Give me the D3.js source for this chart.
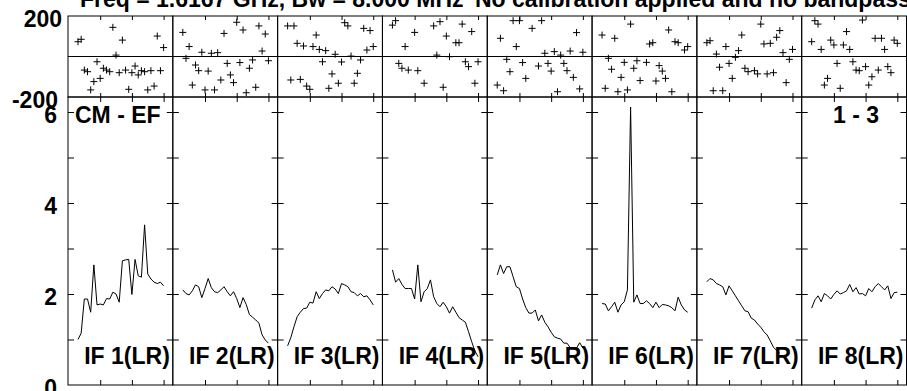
<!DOCTYPE html>
<html><head><meta charset="utf-8">
<script src="https://cdn.jsdelivr.net/npm/d3@7"></script>
<style>
body{margin:0;background:#fff}
svg{display:block}
text{font-family:"Liberation Sans",Arial,Helvetica,sans-serif;font-weight:bold;font-size:23px;fill:#000}
</style>
</head><body>
<svg id="c" width="907" height="391"></svg>
<script>
const titleLeft = "Freq = 1.6167 GHz, Bw = 8.000 MHz";
const titleRight = "No calibration applied and no bandpass applied";
const baselineLabel = "CM - EF";
const pairLabel = "1 - 3";
const ifLabels = ["IF 1(LR)","IF 2(LR)","IF 3(LR)","IF 4(LR)","IF 5(LR)","IF 6(LR)","IF 7(LR)","IF 8(LR)"];
const channels = [3,4,5,6,7,8,9,10,11,12,13,14,15,16,17,18,19,20,21,22,23,24,25,26,27,28,29,30];
const chanTicks = [10,20,30];
const ampLabelTicks = [0,2,4,6];
const ampAllTicks = [1,2,3,4,5,6];
const phaseLabelTicks = [200,-200];

const amp1 = [1.00,1.14,1.89,1.89,1.60,2.64,1.76,1.78,1.76,1.90,1.89,2.04,2.00,1.82,2.73,2.75,2.76,1.99,2.76,2.40,2.37,3.52,2.44,2.33,2.26,2.23,2.26,2.18];
const amp2 = [2.09,2.01,1.98,2.07,2.20,2.16,1.92,2.12,2.34,2.14,2.05,2.03,2.09,2.16,2.05,1.96,2.05,1.90,1.70,1.92,1.77,1.55,1.49,1.43,1.36,1.10,0.99,0.92];
const amp3 = [0.86,1.04,1.28,1.50,1.60,1.68,1.69,1.82,1.80,2.05,1.90,2.01,2.09,2.07,2.16,2.11,2.01,2.23,2.20,2.16,2.05,2.03,1.96,2.01,1.94,1.96,1.87,1.76];
const amp4 = [2.53,2.26,2.34,2.21,2.12,2.12,2.12,1.89,2.64,1.83,2.05,2.12,2.31,1.94,1.79,1.72,1.82,1.72,1.58,1.72,1.60,1.48,1.43,1.38,1.17,0.95,0.75,0.62];
const amp5 = [2.42,2.64,2.45,2.60,2.60,2.38,2.16,2.12,1.89,1.70,1.58,1.58,1.65,1.41,1.54,1.38,1.28,1.16,1.06,1.03,1.01,0.92,0.92,0.82,0.79,0.81,0.93,0.81];
const amp6 = [1.79,1.78,1.63,1.72,1.82,1.60,1.76,1.83,2.09,6.11,1.82,1.98,1.79,1.79,1.85,1.79,1.70,1.82,1.70,1.77,1.76,1.74,1.70,1.63,1.93,1.76,1.65,1.60];
const amp7 = [2.27,2.34,2.31,2.23,2.20,2.16,1.98,2.18,2.07,1.96,1.85,1.74,1.63,1.61,1.47,1.43,1.34,1.27,1.17,1.10,0.97,0.83,0.76,0.70];
const amp8 = [1.69,1.87,1.96,1.83,2.01,1.96,1.89,1.99,2.07,2.00,2.03,2.07,2.21,2.05,2.14,2.00,2.01,1.96,2.12,2.05,2.16,2.23,2.16,2.09,2.18,1.90,2.03,2.04];

const ph1 = [73,85,-67,-75,-165,-124,-26,-108,-58,-67,-75,144,7,-80,81,-67,-162,-80,-47,-91,-70,-75,-165,-70,-146,101,-70,44];
const ph2 = [119,-9,49,-141,-42,-70,21,-165,-72,16,-165,19,-116,114,-34,-91,-129,169,-30,131,-179,-58,-17,-152,151,27,111,-21];
const ph3 = [151,-116,151,65,-113,52,-146,-162,49,106,35,-26,29,-157,-86,11,-132,-27,167,151,2,-132,-83,-17,139,32,128,49];
const ph4 = [155,177,-34,-58,49,-67,null,119,-70,null,-132,null,null,151,7,172,-152,101,-1,null,68,68,160,-26,-50,123,-132,-26];
const ph5 = [-141,90,-169,-14,-75,177,49,177,-30,-108,null,139,null,-47,177,16,-34,-72,24,-174,7,-34,-70,27,-103,118,-160,21];
const ph6 = [106,-157,-9,-63,90,-174,-103,-29,-165,160,-58,-21,-119,null,-29,62,68,-121,-45,-72,-108,131,-174,73,68,null,32,49];
const ph7 = [68,78,-169,12,-53,-169,49,-34,-108,-4,29,106,-58,-75,null,-70,-86,160,62,-86,65,-80,95,128,19,-129,-14,35];
const ph8 = [73,177,160,35,-141,-108,81,57,-34,-157,57,123,35,-26,-67,-70,180,-50,-141,-100,90,-67,90,35,-50,-80,81,65];

const amps = [amp1,amp2,amp3,amp4,amp5,amp6,amp7,amp8];
const phases = [ph1,ph2,ph3,ph4,ph5,ph6,ph7,ph8];

const svg = d3.select("#c");
const L = 68, R = 906.5, nP = 8, W = (R - L) / nP;
const phTop = 16, phBot = 97, amTop = 97, amBot = 385;

const x = d3.scaleLinear().domain([-0.15, 32.9]).range([0, W]);
const yP = d3.scaleLinear().domain([-200, 200]).range([phBot, phTop]);
const yA = d3.scaleLinear().domain([0, 6.33]).range([amBot, amTop]);

function clean(g){ g.select(".domain").remove(); g.selectAll("line").attr("stroke","#000").attr("stroke-width",1); }
const plain = d => String(d);

for (let i = 0; i < nP; i++) {
  const x0 = L + i * W;
  const g = svg.append("g").attr("transform", `translate(${x0},0)`);

  g.append("line").attr("x1",0).attr("x2",W).attr("y1",yP(0)).attr("y2",yP(0)).attr("stroke","#000");

  g.append("g").attr("transform",`translate(0,${phTop})`)
    .call(d3.axisBottom(x).tickValues(chanTicks).tickSize(4).tickFormat("")).call(clean);
  g.append("g").attr("transform",`translate(0,${phBot})`)
    .call(d3.axisTop(x).tickValues(chanTicks).tickSize(4).tickFormat("")).call(clean);
  g.append("g").attr("transform",`translate(0,${amTop})`)
    .call(d3.axisBottom(x).tickValues(chanTicks).tickSize(5).tickFormat("")).call(clean);
  g.append("g").attr("transform",`translate(0,${amBot})`)
    .call(d3.axisTop(x).tickValues(chanTicks).tickSize(5).tickFormat("")).call(clean);
  g.append("g")
    .call(d3.axisRight(yA).tickValues(ampAllTicks).tickSize(6).tickFormat("")).call(clean);
  g.append("g").attr("transform",`translate(${W},0)`)
    .call(d3.axisLeft(yA).tickValues(ampAllTicks).tickSize(6).tickFormat("")).call(clean);

  g.append("rect").attr("x",0).attr("y",phTop).attr("width",W).attr("height",phBot-phTop)
    .attr("fill","none").attr("stroke","#000");
  g.append("rect").attr("x",0).attr("y",amTop).attr("width",W).attr("height",amBot-amTop)
    .attr("fill","none").attr("stroke","#000");

  const pts = channels.map((c,k)=>({c, v: phases[i][k]})).filter(d => d.v !== null && d.v !== undefined);
  g.append("g").selectAll("path").data(pts).join("path")
    .attr("d", d => { const px = x(d.c), py = yP(d.v); return `M${px-3.5},${py}H${px+3.5}M${px},${py-3.5}V${py+3.5}`; })
    .attr("stroke","#000").attr("stroke-width",1).attr("fill","none");

  const line = d3.line().defined(d => d.v != null).x(d => x(d.c)).y(d => yA(d.v));
  const adata = amps[i].map((v,k)=>({c: channels[k], v}));
  g.append("path").datum(adata).attr("d", line).attr("fill","none").attr("stroke","#000").attr("stroke-width",1);

  g.append("text").attr("x", W - 3).attr("y", 364).attr("text-anchor","end").text(ifLabels[i]);
}

function styleLabels(sel){
  sel.attr("dy","0.47em").attr("fill","#000")
    .style("font-size","23px").style("font-family",'"Liberation Sans",Arial,sans-serif').style("font-weight","bold");
}
const ga = svg.append("g").attr("transform",`translate(${L},0)`)
  .call(d3.axisLeft(yA).tickValues(ampLabelTicks).tickFormat(plain).tickSize(0).tickPadding(11));
ga.select(".domain").remove();
ga.selectAll("text").call(styleLabels);

const gp = svg.append("g").attr("transform",`translate(${L},0)`)
  .call(d3.axisLeft(yP).tickValues(phaseLabelTicks).tickFormat(plain).tickSize(0).tickPadding(6));
gp.select(".domain").remove();
gp.selectAll("text").call(styleLabels);
gp.selectAll("text").attr("x", d => d < 0 ? -10 : -6);

svg.append("text").attr("x", 80).attr("y", 7).text(titleLeft);
svg.append("text").attr("x", 475).attr("y", 7).text(titleRight);
svg.append("text").attr("x", 75).attr("y", 123).text(baselineLabel);
svg.append("text").attr("x", 879).attr("y", 123).attr("text-anchor","end").text(pairLabel);
</script>
</body></html>
